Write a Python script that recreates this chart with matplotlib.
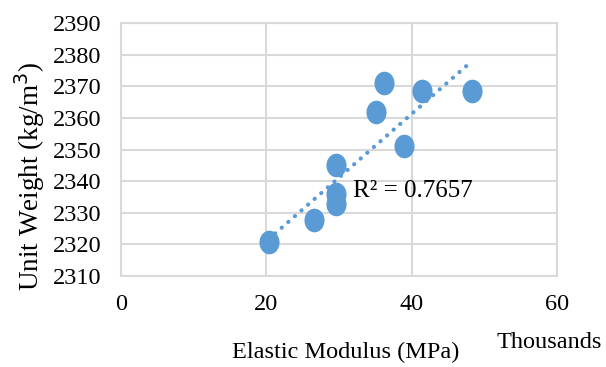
import numpy as np
import matplotlib
matplotlib.use("Agg")
import matplotlib.pyplot as plt
from matplotlib.path import Path
import matplotlib.transforms as mtransforms

# Data (elastic modulus in thousands of MPa, unit weight in kg/m3)
modulus = [20.3, 26.5, 29.6, 29.6, 29.6, 35.1, 36.2, 38.9, 41.4, 48.3]
unit_weight = [2320.7, 2327.8, 2332.8, 2335.8, 2345.0, 2361.8, 2370.9, 2351.0, 2368.5, 2368.5]
r2_label = "R² = 0.7657"
x_ticks = [0, 20, 40, 60]
y_ticks = list(range(2310, 2391, 10))

plt.rcParams['font.family'] = ['Liberation Serif', 'DejaVu Serif']

W, H = 606, 367
fig = plt.figure(figsize=(W/100, H/100), dpi=100)
ax = fig.add_axes([121/W, 1-276/H, (557-121)/W, (276-23)/H])

blue = '#5B9BD5'
grey = '#D9D9D9'

# vertical ellipse marker
circ = Path.unit_circle()
ell = circ.transformed(mtransforms.Affine2D().scale(0.85, 1.0))

ax.scatter(modulus, unit_weight, s=290, marker=ell, color=blue, zorder=3, linewidths=0)

# linear trendline
m, b = np.polyfit(modulus, unit_weight, 1)
xs = np.array([min(modulus), max(modulus)])
ax.plot(xs, m*xs + b, linestyle=(0, (0.05, 2.05)), color=blue, lw=3.0, zorder=2,
        dash_capstyle='round')

ax.text(40.1, 2337.0, r2_label, fontsize=18, ha='center', va='center', zorder=4)

ax.set_xlim(0, 60)
ax.set_ylim(2310, 2390)
ax.set_xticks(x_ticks)
ax.set_yticks(y_ticks)
ax.tick_params(axis='both', length=0, labelsize=17.5)
ax.tick_params(axis='y', pad=14)
ax.tick_params(axis='x', pad=13)
ax.grid(True, color=grey, lw=1.5)
ax.set_axisbelow(True)
for s in ax.spines.values():
    s.set_color(grey)
    s.set_linewidth(1.5)

fig.text(346/W, 1-352/H, "Elastic Modulus (MPa)", fontsize=17.5, ha='center', va='center')
fig.text(30/W, 1-176/H, "Unit Weight (kg/m$^3$)", fontsize=19.5, ha='center', va='center',
         rotation=90)
fig.text(549/W, 1-342/H, "Thousands", fontsize=17.5, ha='center', va='center')

fig.savefig("out.png", dpi=100)
